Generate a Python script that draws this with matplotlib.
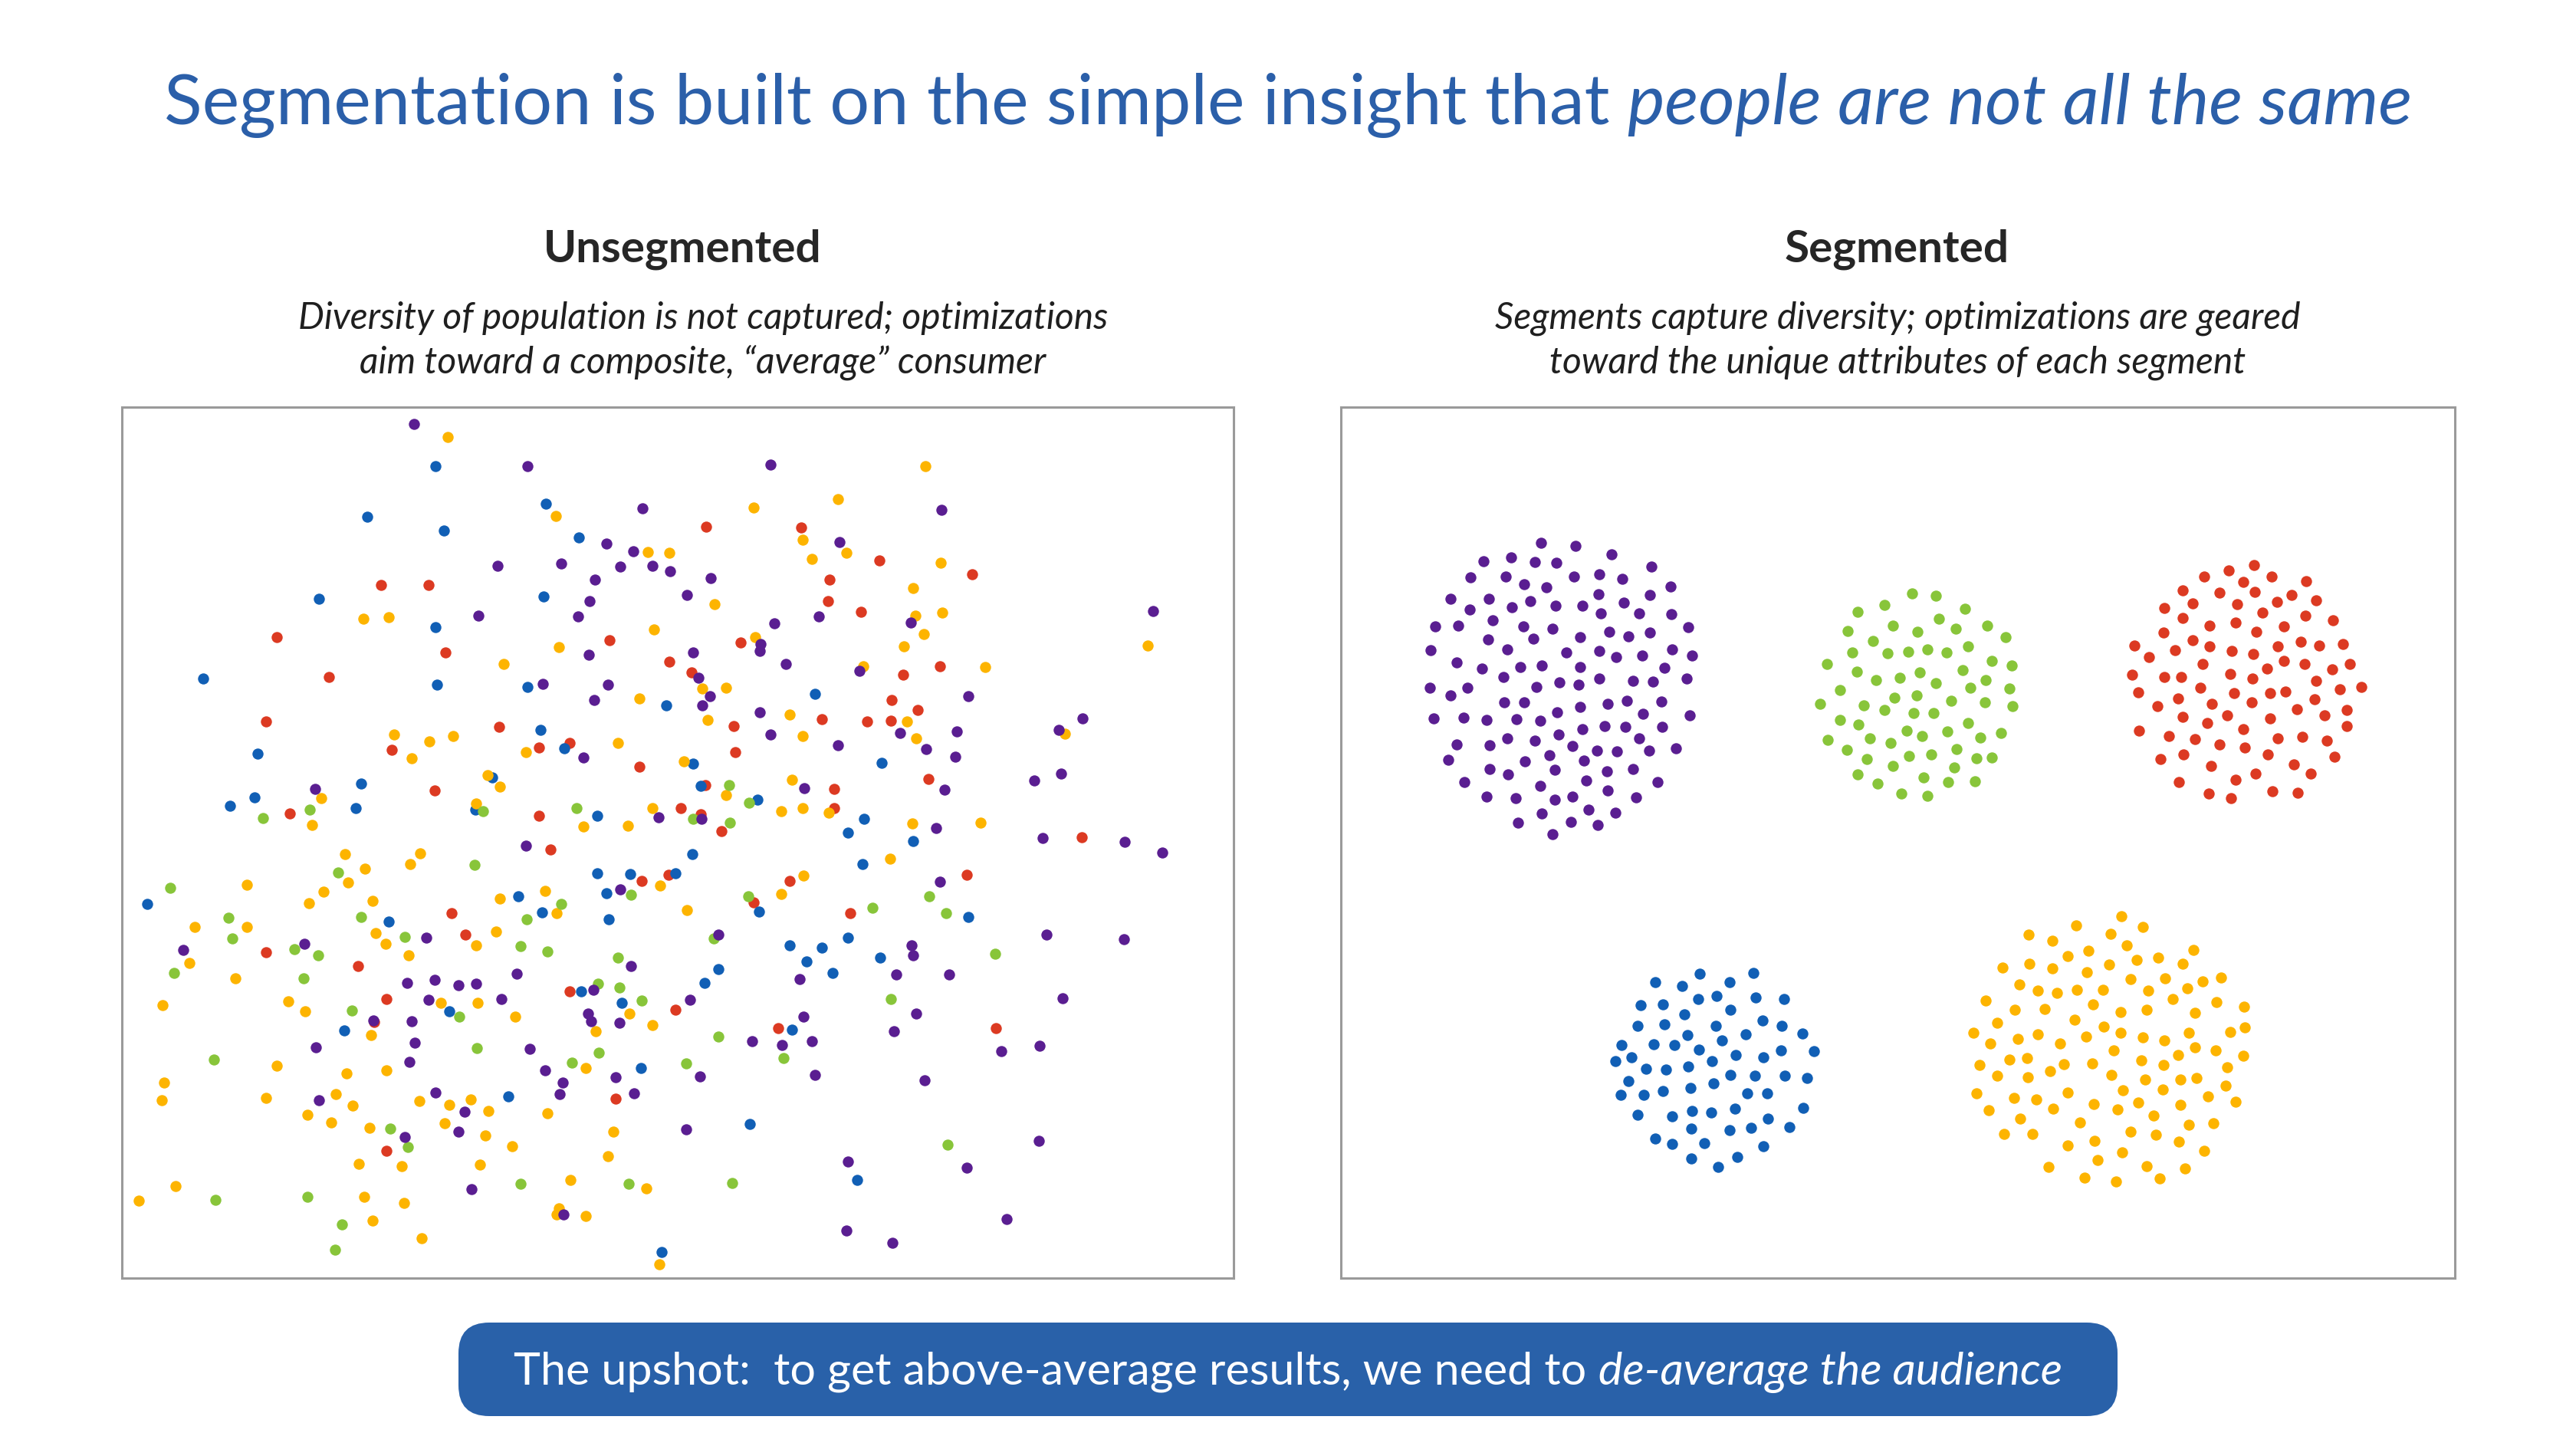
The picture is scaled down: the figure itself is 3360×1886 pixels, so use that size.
import matplotlib
matplotlib.use('Agg')
import matplotlib.pyplot as plt
from matplotlib.patches import FancyBboxPatch

plt.rcParams['font.family'] = ['Lato', 'DejaVu Sans']

# 色
PURPLE = '#5a1e91'
BLUE = '#115fb5'
RED = '#dc3a22'
YELLOW = '#fdb400'
GREEN = '#88c53a'
TITLE_BLUE = '#2b5fa9'
BOX_BLUE = '#2961a9'

# ---- 左パネル（セグメントなし）: 画像の座標から読み取った点 ----
left_purple_x = [540, 649, 624, 411, 688, 1005, 838, 1095, 791, 826, 732, 809, 851, 874, 776, 927, 769, 896, 754, 1068,
                 1010, 992, 991, 904, 768, 1025, 1121, 911, 708, 793, 926, 775, 916, 991, 1005, 761, 1093, 1049, 859, 915,
                 1228, 1188, 1504, 1263, 1174, 1248, 1208, 1246, 1232, 1412, 1381, 1349, 1384, 1221, 1360, 1467,
                 1516, 1226, 1365, 1466, 1189, 1191, 1169, 1238, 1386, 1195, 1166, 1306, 1356, 1206, 1355, 1261, 1313, 1164,
                 686, 809, 937, 823, 674, 1043, 654, 774, 900, 767, 771, 808, 1048, 981, 1020, 1059, 691, 711, 734, 730,
                 803, 827, 913, 1063, 895, 1106, 735, 1104,
                 556, 239, 397, 531, 567, 598, 621, 559, 487, 537, 412, 541, 534, 416, 568, 606, 528, 598, 615]
left_purple_y = [553, 738, 803, 1029, 608, 606, 663, 707, 709, 719, 735, 739, 738, 745, 756, 754, 784, 776, 804, 804,
                 813, 840, 849, 851, 854, 866, 875, 884, 892, 893, 908, 913, 920, 929, 958, 988, 972, 1028, 1066, 1068,
                 665, 812, 797, 908, 956, 954, 977, 987, 1030, 937, 952, 1018, 1009, 1080, 1093, 1098,
                 1112, 1150, 1219, 1225, 1233, 1246, 1271, 1271, 1302, 1322, 1345, 1371, 1364, 1409, 1488, 1523, 1590, 1621,
                 1103, 1160, 1219, 1260, 1270, 1277, 1303, 1291, 1304, 1322, 1332, 1334, 1326, 1358, 1363, 1358, 1368, 1396, 1412, 1427,
                 1405, 1426, 1404, 1402, 1473, 1515, 1584, 1605,
                 1223, 1239, 1231, 1282, 1278, 1285, 1283, 1304, 1331, 1332, 1366, 1360, 1385, 1435, 1425, 1450, 1483, 1476, 1551]

left_blue_x = [568, 479, 579, 416, 568, 265, 570, 336, 642, 471, 300, 332, 464, 620,
               712, 755, 709, 688, 869, 1063, 705, 736, 904, 914, 988, 779, 1106, 1127,
               1150, 1191, 1263, 1148,
               903, 1125, 779, 822, 881, 791, 676, 707, 794, 990, 1030, 1072, 1106, 1052, 1086, 937, 919, 758, 811, 1033,
               836, 663, 978, 1118, 863,
               192, 507, 586, 449]
left_blue_y = [608, 674, 692, 781, 818, 885, 893, 983, 1014, 1022, 1051, 1040, 1054, 1056,
               657, 701, 778, 896, 920, 905, 952, 976, 996, 1025, 1043, 1064, 1086, 1068,
               995, 1097, 1196, 1249,
               1114, 1127, 1139, 1140, 1139, 1165, 1169, 1190, 1199, 1189, 1233, 1236, 1223, 1254, 1269, 1264, 1282, 1293, 1308, 1343,
               1393, 1430, 1466, 1539, 1633,
               1179, 1202, 1319, 1344]

left_red_x = [497, 559, 361, 581, 429, 347, 511, 567, 378,
              921, 1045, 1082, 1080, 1123, 795, 966, 873, 902, 1072, 651, 957, 703, 743, 959, 834, 920, 1088, 703, 888,
              914, 941, 1088,
              1147, 1268, 1226, 1178, 1163, 1197, 1131, 1162, 1211, 1411,
              1261, 1299,
              718, 837, 872, 983, 1030, 1109, 743, 881, 1015, 803,
              589, 607, 347, 467, 504, 488, 504]
left_red_y = [763, 763, 831, 851, 883, 941, 978, 1031, 1061,
              687, 688, 756, 784, 798, 835, 838, 863, 877, 938, 948, 947, 975, 969, 981, 1000, 1024, 1029, 1064, 1054,
              1062, 1084, 1054,
              731, 749, 869, 880, 913, 926, 941, 940, 1016, 1092,
              1141, 1341,
              1108, 1149, 1141, 1177, 1149, 1191, 1293, 1317, 1341, 1433,
              1191, 1219, 1242, 1260, 1303, 1333, 1501]

left_yellow_x = [584, 474, 507, 514, 560, 591, 537, 636, 419, 407, 621,
                 983, 1093, 725, 1047, 1104, 845, 873, 1059, 932, 853, 729, 985, 657, 1126, 916, 947, 834, 1030, 923,
                 1047, 686, 806, 892, 652, 947, 1033, 851, 1019, 1047, 1081, 761, 819,
                 1207, 1227, 1191, 1194, 1229, 1205, 1179, 1497, 1285, 1183, 1195, 1389, 1190, 1279,
                 1161,
                 861, 652, 711, 726, 896, 1048, 1019, 647, 672, 821, 777, 851, 764, 714, 668, 800, 793, 744, 843, 729,
                 726, 764, 860,
                 450, 548, 535, 476, 454, 322, 422, 403, 486, 254, 322, 490, 503, 621, 533, 247, 307, 212, 376, 575,
                 623, 398, 484, 361, 452, 504, 214, 211, 347, 438, 460, 547, 586, 614, 637, 401, 432, 482, 580, 633,
                 468, 524, 626, 229, 181, 475, 527, 486, 550]
left_yellow_y = [570, 807, 805, 958, 967, 960, 989, 1011, 1041, 1076, 1048,
                 662, 651, 673, 704, 721, 720, 721, 729, 788, 821, 844, 831, 866, 869, 898, 897, 911, 932, 939,
                 960, 981, 969, 993, 1026, 1037, 1017, 1054, 1058, 1054, 1060, 1078, 1077,
                 608, 734, 767, 803, 799, 827, 843, 842, 870, 941, 963, 957, 1074, 1073,
                 1120,
                 1155, 1172, 1162, 1191, 1187, 1142, 1166, 1215, 1326, 1322, 1345, 1337, 1393, 1452, 1495, 1476, 1508, 1539, 1550, 1576,
                 1584, 1586, 1649,
                 1114, 1113, 1127, 1133, 1151, 1154, 1163, 1178, 1175, 1209, 1209, 1217, 1231, 1233, 1246, 1256, 1276, 1311, 1306, 1308,
                 1308, 1319, 1350, 1390, 1400, 1396, 1412, 1435, 1432, 1427, 1442, 1436, 1441, 1434, 1449, 1454, 1464, 1471, 1465, 1481,
                 1518, 1521, 1519, 1547, 1566, 1561, 1569, 1592, 1615]

left_green_x = [404, 343, 630,
                951, 977, 752, 904, 952,
                1212, 1138, 1234, 1298, 1162, 1236,
                823, 732, 687, 976, 931, 679, 714, 806, 780, 808, 837, 937, 1022, 781, 746, 895, 679, 820, 955,
                619, 441, 222, 298, 471, 303, 528, 384, 415, 227, 396, 459, 599, 622, 279, 509, 532, 281, 401, 446, 437]
left_green_y = [1056, 1067, 1058,
                1024, 1047, 1054, 1068, 1073,
                1169, 1184, 1191, 1244, 1303, 1493,
                1167, 1179, 1199, 1169, 1224, 1234, 1241, 1249, 1283, 1288, 1305, 1352, 1380, 1373, 1386, 1387, 1544, 1544, 1543,
                1128, 1138, 1158, 1197, 1196, 1224, 1222, 1238, 1246, 1269, 1276, 1318, 1326, 1367, 1382, 1472, 1496, 1565, 1561, 1597, 1630]

# ---- 右パネル（セグメント化）----
right_purple_x = [2010, 2055, 2102, 1935, 1971, 2002, 2030, 2154, 1918, 1964, 1988, 2017, 2053, 2086, 2116, 2179,
                  1892, 1942, 1917, 1972, 1996, 2029, 2064, 2085, 2088, 2118, 2152, 2138, 2180, 1872, 1902, 1947,
                  1987, 2025, 2202, 2099, 2124, 2152, 1941, 2000, 2061, 1866, 1966, 2043, 2086, 2108, 2142, 2181,
                  2207, 1900, 1933, 1983, 2011, 2061, 2171, 1961, 2034, 2059, 2086, 2130, 2156, 2200, 1865, 1892,
                  1914, 2004, 1962, 1988, 2061, 2097, 2122, 2167, 1870, 1909, 1939, 1978, 2009, 2031, 2143, 2204,
                  2064, 2093, 2120, 2168, 1900, 1943, 1966, 2002, 2033, 2051, 2138, 2083, 2109, 2151, 2186, 1889,
                  1989, 2021, 2066, 1943, 1967, 2028, 2096, 2130, 1910, 2009, 2069, 2162, 1939, 1977, 2028, 2051,
                  2097, 2134, 2011, 2072, 2107, 1980, 2049, 2084, 2025]
right_purple_y = [708, 712, 723, 732, 727, 733, 734, 739, 753, 752, 762, 766, 752, 749, 755, 765,
                  781, 781, 795, 792, 784, 790, 790, 775, 800, 786, 776, 800, 801, 817, 816, 809,
                  817, 820, 818, 824, 830, 825, 834, 833, 831, 848, 847, 851, 849, 857, 855, 847,
                  855, 864, 872, 870, 868, 870, 871, 883, 890, 893, 885, 888, 889, 885, 897, 907,
                  897, 896, 916, 916, 922, 918, 914, 915, 937, 936, 939, 938, 940, 929, 931, 933,
                  951, 947, 948, 948, 971, 972, 963, 966, 958, 973, 963, 979, 980, 979, 976, 991,
                  993, 985, 992, 1003, 1010, 1004, 1006, 1003, 1020, 1025, 1018, 1020, 1039, 1041, 1043, 1039,
                  1031, 1040, 1061, 1056, 1060, 1073, 1072, 1076, 1088]

right_green_x = [2494, 2525, 2458, 2423, 2563, 2529, 2469, 2410, 2501, 2551, 2592, 2616, 2443, 2416, 2462, 2489,
                 2514, 2539, 2567, 2383, 2598, 2624, 2422, 2447, 2478, 2504, 2525, 2560, 2590, 2400, 2570, 2621,
                 2374, 2471, 2500, 2545, 2589, 2625, 2431, 2458, 2496, 2522, 2400, 2424, 2567, 2487, 2507, 2540,
                 2583, 2610, 2384, 2439, 2466, 2409, 2552, 2435, 2490, 2519, 2578, 2598, 2469, 2549, 2423, 2449,
                 2509, 2541, 2576, 2480, 2514]
right_green_y = [774, 777, 789, 798, 794, 807, 816, 823, 824, 820, 816, 831, 836, 851, 852, 850,
                 847, 851, 843, 866, 862, 868, 876, 887, 884, 877, 891, 874, 887, 900, 897, 898,
                 918, 910, 907, 914, 916, 921, 920, 926, 930, 930, 939, 945, 943, 953, 960, 954,
                 962, 956, 965, 963, 969, 978, 977, 990, 986, 984, 989, 988, 999, 1001, 1010, 1022,
                 1014, 1020, 1019, 1035, 1038]

right_red_x = [2940, 2907, 2875, 2963, 2926, 3008, 2847, 2895, 2941, 2989, 2860, 2918, 2970, 3021, 2823, 2951,
               2847, 3007, 3043, 2882, 2916, 2979, 2822, 2943, 2860, 2784, 2882, 2971, 3001, 3025, 3056, 2803,
               2837, 2911, 2939, 2873, 2979, 3006, 2957, 3042, 3065, 2781, 2823, 2845, 2909, 2938, 3021, 2789,
               2870, 2914, 2961, 2981, 3052, 3080, 2841, 2885, 2937, 3019, 2814, 2847, 2905, 2961, 2996, 3032,
               3061, 2879, 2926, 3061, 2790, 2829, 2863, 2895, 2928, 2971, 3003, 3035, 2818, 2848, 2958, 3045,
               2884, 2992, 2942, 3014, 2842, 2916, 2881, 2910, 2964, 2997]
right_red_y = [737, 744, 752, 752, 759, 758, 770, 773, 772, 776, 787, 788, 785, 783, 793, 799,
               806, 803, 809, 816, 812, 817, 825, 824, 835, 842, 843, 843, 837, 842, 840, 857,
               848, 849, 853, 866, 862, 866, 872, 873, 866, 880, 883, 883, 879, 885, 888, 903,
               897, 904, 904, 902, 899, 896, 911, 918, 916, 912, 921, 935, 933, 937, 925, 933,
               926, 943, 951, 947, 953, 960, 964, 971, 975, 963, 961, 966, 990, 984, 984, 987,
               999, 997, 1009, 1009, 1020, 1017, 1035, 1041, 1032, 1034]

right_blue_x = [2217, 2287, 2159, 2194, 2256, 2215, 2239, 2290, 2327, 2140, 2169, 2197, 2257, 2136, 2171, 2238,
                2299, 2324, 2201, 2277, 2351, 2115, 2157, 2184, 2246, 2216, 2264, 2300, 2323, 2366, 2107, 2128,
                2233, 2147, 2173, 2202, 2257, 2289, 2328, 2357, 2124, 2235, 2114, 2144, 2169, 2205, 2279, 2305,
                2136, 2181, 2207, 2232, 2263, 2352, 2306, 2206, 2256, 2284, 2334, 2159, 2181, 2223, 2300, 2206,
                2266, 2241]
right_blue_y = [1270, 1269, 1281, 1286, 1281, 1303, 1299, 1301, 1303, 1311, 1310, 1323, 1317, 1338, 1336, 1338,
                1331, 1338, 1350, 1349, 1348, 1363, 1362, 1363, 1357, 1369, 1376, 1379, 1370, 1371, 1384, 1379,
                1384, 1394, 1395, 1391, 1402, 1403, 1403, 1406, 1410, 1413, 1428, 1428, 1423, 1419, 1426, 1426,
                1454, 1456, 1449, 1451, 1446, 1445, 1459, 1472, 1474, 1471, 1470, 1485, 1492, 1491, 1495, 1511,
                1509, 1522]

right_yellow_x = [2767, 2708, 2795, 2646, 2677, 2753, 2774, 2861, 2697, 2724, 2787, 2815, 2612, 2647, 2677, 2751,
                  2847, 2722, 2779, 2824, 2873, 2897, 2634, 2658, 2683, 2709, 2743, 2802, 2853, 2590, 2628, 2667,
                  2730, 2766, 2800, 2834, 2863, 2891, 2927, 2605, 2706, 2574, 2596, 2632, 2658, 2687, 2721, 2744,
                  2766, 2795, 2823, 2855, 2909, 2928, 2757, 2863, 2890, 2582, 2621, 2644, 2692, 2729, 2793, 2822,
                  2841, 2926, 2605, 2645, 2674, 2754, 2798, 2844, 2865, 2905, 2578, 2627, 2656, 2697, 2769, 2821,
                  2903, 2594, 2678, 2731, 2762, 2789, 2844, 2880, 2916, 2635, 2713, 2809, 2614, 2651, 2779, 2812,
                  2855, 2887, 2697, 2732, 2842, 2768, 2875, 2736, 2672, 2800, 2850, 2719, 2760, 2817]
right_yellow_y = [1195, 1207, 1209, 1219, 1227, 1218, 1233, 1239, 1247, 1240, 1252, 1249, 1262, 1257, 1263, 1258,
                  1257, 1268, 1277, 1276, 1280, 1275, 1284, 1292, 1295, 1291, 1291, 1292, 1289, 1305, 1317, 1316,
                  1310, 1320, 1317, 1303, 1321, 1307, 1313, 1334, 1330, 1347, 1361, 1355, 1349, 1361, 1352, 1339,
                  1347, 1353, 1357, 1347, 1346, 1340, 1370, 1366, 1370, 1389, 1382, 1380, 1388, 1387, 1383, 1389,
                  1376, 1377, 1403, 1405, 1397, 1402, 1408, 1408, 1406, 1392, 1426, 1432, 1434, 1425, 1422, 1421,
                  1416, 1448, 1446, 1440, 1447, 1438, 1441, 1430, 1437, 1459, 1464, 1455, 1479, 1479, 1476, 1480,
                  1467, 1465, 1494, 1488, 1489, 1503, 1501, 1513, 1522, 1521, 1524, 1536, 1541, 1537]

# 文字列
title_parts = [('Segmentation is built on the simple insight that ', 'normal'),
               ('people are not all the same', 'italic')]
left_head = 'Unsegmented'
left_sub = ['Diversity of population is not captured; optimizations',
            'aim toward a composite, \u201caverage\u201d consumer']
right_head = 'Segmented'
right_sub = ['Segments capture diversity; optimizations are geared',
             'toward the unique attributes of each segment']
box_parts = [('The upshot:  to get above-average results, we need to ', 'normal'),
             ('de-average the audience', 'italic')]

W, H = 3360, 1886
fig = plt.figure(figsize=(W / 100, H / 100), dpi=100)
fig.patch.set_facecolor('white')

# 背景用の軸（ピクセル座標）
bg = fig.add_axes([0, 0, 1, 1])
bg.set_xlim(0, W)
bg.set_ylim(H, 0)
bg.axis('off')

renderer = fig.canvas.get_renderer()


def mixed_line(ax, xc, y, parts, **kw):
    objs = [ax.text(0, y, s, style=st, ha='left', va='baseline', **kw) for s, st in parts]
    widths = [t.get_window_extent(renderer).width for t in objs]
    x = xc - sum(widths) / 2
    for t, w in zip(objs, widths):
        t.set_x(x)
        x += w


mixed_line(bg, 1680, 162, title_parts, fontsize=66, color=TITLE_BLUE)

bg.text(890, 342, left_head, ha='center', va='baseline', fontsize=42, fontweight='bold', color='#262626')
bg.text(2474, 342, right_head, ha='center', va='baseline', fontsize=42, fontweight='bold', color='#262626')
for i, (a, b) in enumerate(zip(left_sub, right_sub)):
    yy = 429 + i * 58
    bg.text(917, yy, a, ha='center', va='baseline', fontsize=34.5, style='italic', color='#1f1f1f')
    bg.text(2475, yy, b, ha='center', va='baseline', fontsize=34.5, style='italic', color='#1f1f1f')

# 下のボックス
box = FancyBboxPatch((598, 1725), 2164, 122, boxstyle='round,pad=0,rounding_size=40',
                     facecolor=BOX_BLUE, edgecolor='none')
bg.add_patch(box)
mixed_line(bg, 1680, 1806, box_parts, fontsize=42.7, color='white')


def panel(rect, xlim, ylim):
    x0, y0, x1, y1 = rect
    ax = fig.add_axes([x0 / W, 1 - y1 / H, (x1 - x0) / W, (y1 - y0) / H])
    ax.set_xlim(*xlim)
    ax.set_ylim(*ylim)
    ax.set_xticks([])
    ax.set_yticks([])
    for s in ax.spines.values():
        s.set_color('#9a9a9a')
        s.set_linewidth(2.2)
    return ax


ax1 = panel((159, 531, 1609, 1667), (159, 1609), (1667, 531))
ax2 = panel((1749, 531, 3202, 1667), (1749, 3202), (1667, 531))

ms = 108
for xs, ys, c in [(left_red_x, left_red_y, RED), (left_blue_x, left_blue_y, BLUE),
                  (left_yellow_x, left_yellow_y, YELLOW), (left_green_x, left_green_y, GREEN),
                  (left_purple_x, left_purple_y, PURPLE)]:
    ax1.scatter(xs, ys, s=ms, color=c, linewidths=0)

for xs, ys, c in [(right_purple_x, right_purple_y, PURPLE), (right_green_x, right_green_y, GREEN),
                  (right_red_x, right_red_y, RED), (right_blue_x, right_blue_y, BLUE),
                  (right_yellow_x, right_yellow_y, YELLOW)]:
    ax2.scatter(xs, ys, s=ms, color=c, linewidths=0)

fig.savefig('out.png', dpi=100)
